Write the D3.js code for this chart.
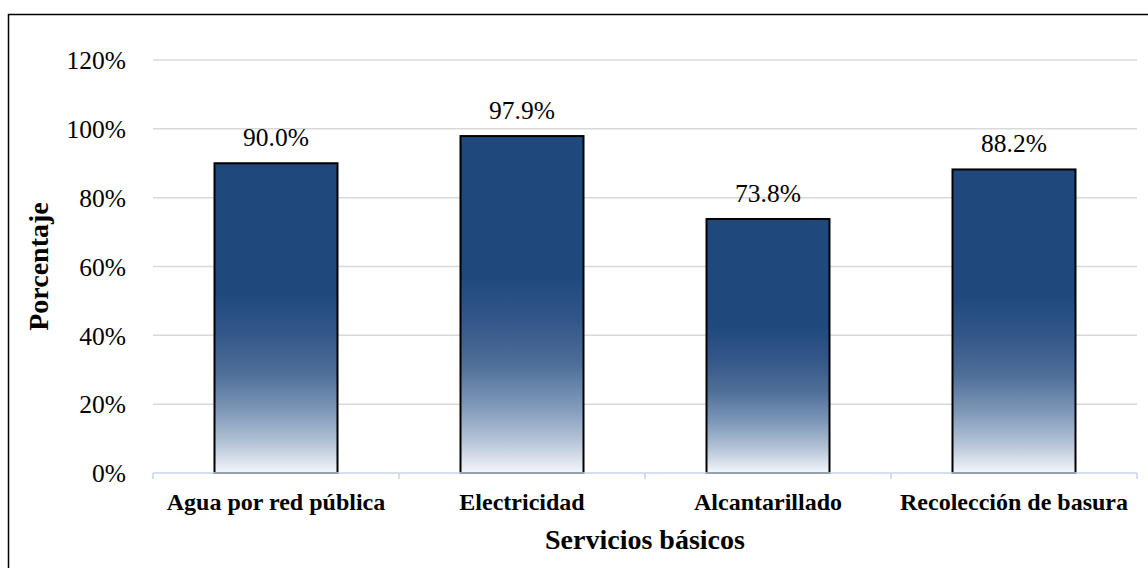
<!DOCTYPE html>
<html>
<head>
<meta charset="utf-8">
<script src="https://cdn.jsdelivr.net/npm/d3@7"></script>
<style>
  html, body { margin: 0; padding: 0; background: #fff; }
  svg { display: block; }
  .serif { font-family: "Liberation Serif", "Times New Roman", serif; }
</style>
</head>
<body>
<svg id="chart" width="1148" height="568"></svg>
<script>
// Cobertura de servicios básicos (porcentaje de hogares)
const categories = ["Agua por red pública", "Electricidad", "Alcantarillado", "Recolección de basura"];
const values = [90.0, 97.9, 73.8, 88.2];
const yTicks = [0, 20, 40, 60, 80, 100, 120];

const W = 1148, H = 568;
const margin = { left: 153, right: 11, top: 60, bottom: 95 };
const svg = d3.select("#chart");

// Outer frame
svg.append("rect")
  .attr("x", 8.5).attr("y", 14.5)
  .attr("width", W + 10).attr("height", H + 10)
  .attr("fill", "none").attr("stroke", "#000").attr("stroke-width", 1.5);

const x = d3.scaleBand()
  .domain(categories)
  .range([margin.left, W - margin.right])
  .paddingInner(0.5).paddingOuter(0.25);

const y = d3.scaleLinear()
  .domain([0, 120])
  .range([H - margin.bottom, margin.top]);

// Vertical gradient per bar: solid navy in the upper part, fading to white at the base
const defs = svg.append("defs");
const grad = defs.append("linearGradient")
  .attr("id", "barFill")
  .attr("x1", 0).attr("y1", 0).attr("x2", 0).attr("y2", 1);
[
  [0, "#1f497d"], [0.42, "#1f497d"], [0.55, "#34578a"], [0.68, "#4f6f98"],
  [0.8, "#7f98b9"], [0.9, "#b3c2d6"], [1, "#f4f6fa"]
].forEach(([o, c]) => grad.append("stop").attr("offset", o).attr("stop-color", c));

// Gridlines
svg.append("g")
  .selectAll("line")
  .data(yTicks.filter(t => t > 0))
  .join("line")
  .attr("x1", margin.left).attr("x2", W - margin.right)
  .attr("y1", d => y(d)).attr("y2", d => y(d))
  .attr("stroke", "#d9d9d9").attr("stroke-width", 1.5);

// Y axis labels
const yAxis = svg.append("g")
  .attr("transform", `translate(${margin.left},0)`)
  .call(d3.axisLeft(y).tickValues(yTicks).tickFormat(d => d + "%").tickSize(0).tickPadding(27));
yAxis.attr("font-family", null).attr("font-size", null);
yAxis.select(".domain").remove();
yAxis.selectAll("text")
  .attr("class", "serif")
  .attr("font-size", 25.5).attr("fill", "#000")
  .attr("dy", "0.34em");

// Bars
svg.append("g")
  .selectAll("rect")
  .data(values)
  .join("rect")
  .attr("x", (d, i) => x(categories[i]))
  .attr("y", d => y(d))
  .attr("width", x.bandwidth())
  .attr("height", d => y(0) - y(d))
  .attr("fill", "url(#barFill)")
  .attr("stroke", "#000").attr("stroke-width", 2);

// Data labels
svg.append("g")
  .selectAll("text")
  .data(values)
  .join("text")
  .attr("class", "serif")
  .attr("x", (d, i) => x(categories[i]) + x.bandwidth() / 2)
  .attr("y", d => y(d) - 17)
  .attr("text-anchor", "middle")
  .attr("font-size", 25.5).attr("fill", "#000")
  .text(d => d.toFixed(1) + "%");

// X axis: light blue baseline with ticks between categories
const step = x.step();
const xAxisG = svg.append("g");
xAxisG.append("line")
  .attr("x1", margin.left).attr("x2", W - margin.right)
  .attr("y1", y(0)).attr("y2", y(0))
  .attr("stroke", "#c5d6ed").attr("stroke-width", 1.5);
xAxisG.selectAll("line.tick")
  .data(d3.range(categories.length + 1))
  .join("line")
  .attr("class", "tick")
  .attr("x1", i => margin.left + i * step).attr("x2", i => margin.left + i * step)
  .attr("y1", y(0)).attr("y2", y(0) + 6)
  .attr("stroke", "#c5d6ed").attr("stroke-width", 1.5);

// Category labels
svg.append("g")
  .selectAll("text")
  .data(categories)
  .join("text")
  .attr("class", "serif")
  .attr("x", d => x(d) + x.bandwidth() / 2)
  .attr("y", 510)
  .attr("text-anchor", "middle")
  .attr("font-weight", "bold").attr("font-size", 24)
  .attr("fill", "#000")
  .text(d => d);

// Axis titles
svg.append("text")
  .attr("class", "serif")
  .attr("x", (margin.left + W - margin.right) / 2)
  .attr("y", 549)
  .attr("text-anchor", "middle")
  .attr("font-weight", "bold").attr("font-size", 28)
  .text("Servicios básicos");

svg.append("text")
  .attr("class", "serif")
  .attr("transform", `translate(48, ${y(60)}) rotate(-90)`)
  .attr("text-anchor", "middle")
  .attr("font-weight", "bold").attr("font-size", 28)
  .text("Porcentaje");
</script>
</body>
</html>
